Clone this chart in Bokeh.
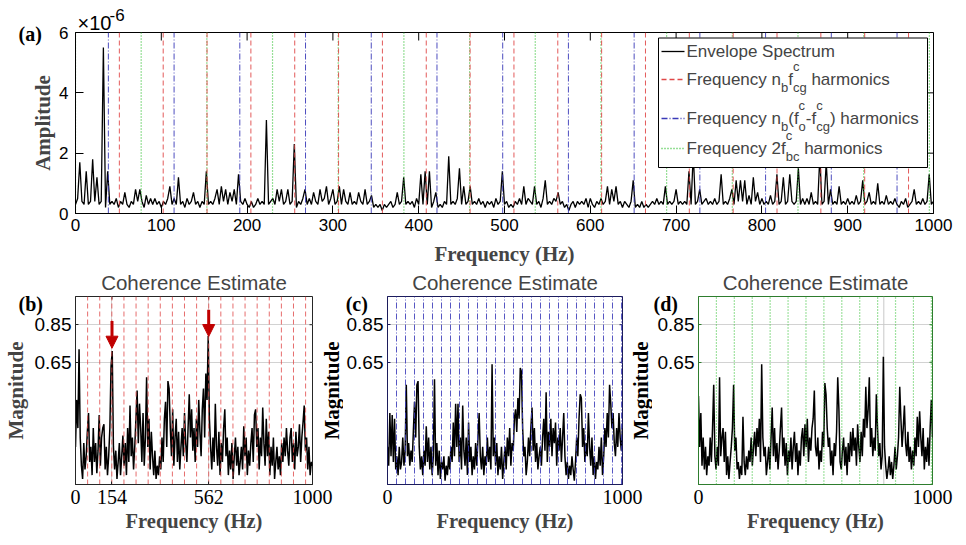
import math
from bokeh.plotting import figure
from bokeh.models import Range1d, FixedTicker, Label, BoxAnnotation, Arrow, NormalHead, Span
from bokeh.layouts import column, row
from bokeh.embed import file_html
from bokeh.resources import INLINE
from bokeh.core.properties import value

SANS = "Liberation Sans"
SERIF = "Liberation Serif"

# ---------------- data ----------------
# (a) envelope spectrum, one value every 2.5 Hz from 0 Hz, amplitude in units of 1e-7
ENV_STEP_HZ = 2.5
env_amp_e7 = [
    3, 5, 17, 4, 3, 14, 3, 4, 18, 4, 12, 3, 4, 55, 2, 14, 3, 4, 3, 5,
    2, 4, 3, 7, 3, 2, 4, 3, 8, 4, 8, 4, 2, 6, 3, 5, 3, 5, 3, 4,
    2, 4, 3, 5, 9, 3, 5, 3, 12, 3, 4, 2, 5, 3, 4, 7, 3, 4, 2, 4,
    3, 14, 3, 4, 3, 5, 8, 3, 9, 4, 8, 3, 7, 4, 8, 3, 13, 4, 3, 5,
    3, 2, 4, 2, 3, 5, 3, 4, 3, 31, 3, 4, 5, 3, 8, 4, 8, 3, 4, 8,
    3, 4, 23, 2, 4, 3, 5, 8, 3, 5, 3, 7, 4, 3, 8, 4, 5, 9, 3, 5,
    8, 3, 4, 9, 3, 8, 4, 3, 7, 3, 4, 3, 7, 4, 3, 8, 3, 4, 6, 2,
    3, 2, 3, 1, 3, 2, 3, 4, 2, 3, 7, 3, 4, 12, 3, 4, 3, 4, 2, 5,
    3, 13, 3, 14, 3, 14, 2, 4, 7, 2, 3, 2, 4, 3, 19, 3, 4, 3, 5, 15,
    3, 9, 3, 4, 9, 3, 4, 3, 5, 3, 4, 2, 4, 3, 4, 2, 5, 3, 4, 14,
    3, 4, 2, 3, 2, 4, 3, 5, 3, 9, 3, 5, 4, 3, 9, 3, 4, 2, 5, 11,
    3, 4, 3, 5, 4, 7, 3, 4, 2, 3, 1, 3, 4, 2, 4, 3, 4, 3, 5, 2,
    5, 3, 2, 4, 3, 5, 3, 4, 9, 3, 8, 4, 9, 3, 4, 2, 4, 3, 2, 4,
    11, 2, 3, 2, 4, 2, 3, 2, 3, 4, 3, 5, 3, 4, 3, 9, 3, 4, 3, 4,
    8, 3, 4, 3, 4, 3, 14, 3, 20, 3, 4, 8, 3, 4, 5, 3, 4, 3, 5, 3,
    4, 13, 3, 4, 3, 5, 8, 3, 11, 4, 11, 4, 11, 3, 6, 3, 12, 4, 7, 3,
    5, 3, 4, 3, 6, 3, 4, 13, 3, 4, 12, 3, 4, 13, 4, 3, 4, 15, 3, 5,
    3, 5, 3, 7, 3, 4, 3, 19, 3, 4, 17, 3, 8, 3, 4, 3, 9, 3, 4, 3,
    5, 3, 4, 3, 6, 3, 4, 11, 3, 4, 7, 3, 4, 3, 10, 3, 4, 3, 6, 3,
    4, 3, 5, 3, 2, 4, 3, 5, 2, 3, 4, 8, 3, 4, 3, 5, 3, 4, 13, 3, 4,
]

# (b)(c)(d) coherence estimates, one value every 5 Hz from 0 Hz, magnitude in units of 0.01
COH_STEP_HZ = 5
coh_b = [
    20, 45, 30, 72, 25, 10, 3, 22, 8, 15,
    28, 38, 12, 20, 5, 30, 12, 22, 6, 18,
    37, 10, 25, 30, 32, 8, 20, 5, 15, 30,
    63, 71, 20, 8, 18, 3, 12, 22, 5, 15,
    26, 10, 22, 5, 30, 12, 42, 15, 25, 8,
    20, 35, 50, 22, 43, 30, 12, 38, 10, 25,
    57, 20, 35, 8, 28, 15, 5, 18, 3, 10,
    5, 15, 8, 25, 12, 35, 44, 20, 55, 51,
    30, 15, 40, 10, 25, 35, 12, 28, 8, 20,
    30, 15, 38, 22, 12, 30, 48, 25, 40, 18,
    30, 12, 35, 20, 45, 28, 15, 40, 51, 25,
    59, 45, 79, 35, 20, 8, 25, 12, 43, 20,
    10, 28, 5, 22, 12, 30, 40, 15, 25, 5,
    18, 8, 22, 3, 15, 25, 10, 20, 5, 12,
    20, 8, 31, 15, 25, 5, 18, 10, 22, 30,
    12, 37, 40, 20, 30, 8, 25, 15, 41, 22,
    10, 35, 15, 28, 5, 20, 10, 25, 3, 12,
    20, 8, 15, 5, 22, 12, 25, 15, 30, 18,
    10, 25, 30, 12, 22, 8, 28, 15, 20, 32,
    12, 25, 33, 42, 18, 25, 8, 20, 5, 12,
    10,
]
coh_c = [
    20, 10, 38, 15, 37, 12, 35, 8, 15, 5,
    20, 8, 12, 25, 10, 18, 53, 15, 22, 10,
    18, 12, 28, 44, 25, 53, 55, 20, 8, 15,
    5, 18, 10, 31, 12, 25, 8, 20, 5, 15,
    56, 10, 22, 5, 18, 3, 12, 8, 15, 2,
    10, 5, 15, 8, 20, 12, 33, 15, 43, 20,
    43, 12, 25, 8, 42, 18, 10, 25, 5, 33,
    12, 20, 5, 15, 8, 22, 10, 25, 38, 15,
    8, 20, 5, 15, 10, 25, 12, 20, 8, 64,
    15, 25, 10, 22, 5, 15, 8, 20, 3, 12,
    20, 8, 25, 15, 30, 10, 22, 18, 35, 40,
    28, 46, 35, 62, 60, 30, 15, 20, 5, 12,
    25, 15, 30, 41, 18, 30, 12, 22, 8, 15,
    20, 10, 25, 35, 18, 49, 12, 28, 20, 35,
    15, 30, 22, 33, 10, 25, 18, 30, 12, 25,
    38, 15, 5, 12, 3, 10, 5, 15, 8, 2,
    12, 25, 15, 35, 48, 46, 20, 30, 12, 22,
    15, 38, 20, 10, 25, 5, 15, 3, 12, 8,
    20, 10, 25, 5, 15, 30, 20, 38, 25, 53,
    43, 30, 38, 22, 15, 30, 20, 38, 25, 18,
    30,
]
coh_d = [
    47, 20, 38, 10, 25, 8, 20, 5, 15, 10,
    25, 12, 30, 53, 15, 8, 20, 10, 57, 15,
    25, 30, 12, 28, 5, 15, 3, 12, 20, 30,
    53, 18, 25, 8, 12, 3, 10, 5, 36, 12,
    5, 15, 8, 18, 12, 25, 10, 20, 28, 15,
    30, 20, 35, 12, 64, 25, 15, 20, 5, 12,
    20, 8, 25, 41, 15, 30, 12, 22, 8, 18,
    30, 41, 15, 25, 10, 22, 5, 18, 12, 25,
    8, 20, 28, 12, 22, 5, 18, 10, 25, 30,
    15, 32, 20, 35, 12, 25, 18, 30, 35, 50,
    20, 15, 25, 8, 18, 12, 28, 20, 54, 48,
    30, 20, 25, 10, 18, 5, 22, 15, 28, 57,
    40, 12, 8, 18, 25, 10, 20, 5, 22, 12,
    28, 15, 30, 18, 25, 10, 32, 20, 12, 28,
    15, 35, 25, 52, 30, 40, 57, 20, 30, 15,
    25, 18, 48, 30, 15, 22, 8, 15, 68, 20,
    10, 3, 8, 15, 5, 12, 3, 10, 20, 8,
    15, 25, 52, 35, 20, 30, 42, 22, 15, 28,
    12, 20, 8, 18, 10, 25, 15, 36, 20, 39,
    25, 15, 30, 8, 20, 12, 25, 10, 30, 45,
    25,
]

# characteristic frequencies (Hz) and the harmonic orders drawn
f_nb_fcg = 51.1        # n_b f^c_cg
f_nb_fo_fcg = 38.3     # n_b (f^c_o - f^c_cg)
f_2fbc = 76.55         # 2 f^c_bc
red_orders_a = list(range(1, 20))
blue_orders_a = [1, 3, 5, 7, 9, 11, 13, 15, 17, 19, 21, 23, 25]
green_orders_a = list(range(0, 14))
red_orders_b = list(range(1, 20))
blue_orders_c = list(range(1, 27))
green_orders_d = list(range(1, 14))

x_ticks_a = [0, 100, 200, 300, 400, 500, 600, 700, 800, 900, 1000]
y_ticks_a = [0, 2, 4, 6]
x_ticks_b = [0, 154, 562, 1000]
x_ticks_cd = [0, 1000]
y_ticks_bcd = [0.65, 0.85]
arrow_freqs_b = [154, 562]
arrow_tops_b = [0.87, 0.93]
arrow_tips_b = [0.725, 0.787]
cursor_freq_d = 792

# ---------------- styles ----------------
RED, RED_DASH = "#e04848", "5 3"
BLUE, BLUE_DASH = "#3a3ab8", "6 2 1 2"
GREEN, GREEN_DASH = "#2fbf2f", "1 2"
ARROW_RED = "#c00000"

ARIAL_W = {' ': 278, '(': 333, ')': 333, '-': 333, '2': 556, 'E': 667, 'F': 611, 'S': 667,
           'a': 556, 'b': 556, 'c': 500, 'e': 556, 'f': 278, 'g': 556, 'h': 556, 'i': 222,
           'l': 222, 'm': 833, 'n': 556, 'o': 556, 'p': 556, 'q': 556, 'r': 333, 's': 500,
           't': 278, 'u': 556, 'v': 500, 'y': 500, '×': 584, '1': 556, '0': 556}


def tw(s, size):
    return sum(ARIAL_W.get(ch, 556) for ch in s) * size / 1000.0


def base_fig(width, height, yr, bl, br, bt, bb, frame_color):
    p = figure(width=width, height=height, x_range=Range1d(0, 1000), y_range=Range1d(*yr),
               output_backend="svg", toolbar_location=None,
               min_border_left=bl, min_border_right=br, min_border_top=bt, min_border_bottom=bb)
    p.outline_line_color = frame_color
    p.outline_line_width = 1
    p.background_fill_color = "white"
    p.border_fill_color = "white"
    return p


def setup_axes(p, xt, yt, color, tick_len_px, fw, fh, yr):
    xa_, ya_ = p.xaxis[0], p.yaxis[0]
    for ax, ticks in ((xa_, xt), (ya_, yt)):
        ax.ticker = FixedTicker(ticks=ticks)
        ax.major_tick_in = tick_len_px
        ax.major_tick_out = 0
        ax.minor_tick_line_color = None
        ax.axis_line_color = color
        ax.major_tick_line_color = color
        ax.major_label_text_color = "black"
    # mirrored inward ticks on the top and right frame edges (MATLAB box style)
    y0, y1 = yr
    dy = tick_len_px / fh * (y1 - y0)
    dx = tick_len_px / fw * 1000.0
    p.segment(x0=xt, y0=[y1] * len(xt), x1=xt, y1=[y1 - dy] * len(xt), line_color=color, line_width=1)
    p.segment(x0=[1000] * len(yt), y0=yt, x1=[1000 - dx] * len(yt), y1=yt, line_color=color, line_width=1)
    return xa_, ya_


def vlines(p, freqs, y0, y1, color, dash, width=1.0, alpha=1.0):
    n = len(freqs)
    p.segment(x0=freqs, y0=[y0] * n, x1=freqs, y1=[y1] * n, line_color=color,
              line_dash=dash, line_width=width, line_alpha=alpha)


def free_text(p, x, y, txt, font, size, bold=False, align="left", baseline="middle", angle=0.0):
    p.text(x=[x], y=[y], text=[txt], text_font=value(font), text_font_size=value(size),
           text_font_style="bold" if bold else "normal", text_align=align,
           text_baseline=baseline, angle=angle, text_color="black", level="overlay")


# ---------------- (a) envelope spectrum ----------------
pa = base_fig(966, 270, (0, 6), 75, 33, 32, 57, "black")
xa, ya = setup_axes(pa, x_ticks_a, y_ticks_a, "black", 8, 858, 181, (0, 6))
pa.grid.visible = False
xa.major_label_text_font = SANS
xa.major_label_text_font_size = "17px"
xa.major_label_standoff = 5
xa.axis_label = "Frequency (Hz)"
xa.axis_label_text_font = SERIF
xa.axis_label_text_font_style = "bold"
xa.axis_label_text_font_size = "21px"
xa.axis_label_standoff = 8
ya.major_label_text_font = SANS
ya.major_label_text_font_size = "17px"
ya.major_label_standoff = 7
ya.axis_label = "Amplitude"
ya.axis_label_text_font = SERIF
ya.axis_label_text_font_style = "bold"
ya.axis_label_text_font_size = "21px"
ya.axis_label_standoff = 1

env_f = [i * ENV_STEP_HZ for i in range(len(env_amp_e7))]
env_y = [v / 10.0 for v in env_amp_e7]   # in units of 1e-6
pa.line(env_f, env_y, line_color="black", line_width=1.3)

vlines(pa, [f_2fbc * n for n in green_orders_a], 0, 6, GREEN, GREEN_DASH, 1.2)
vlines(pa, [f_nb_fcg * n for n in red_orders_a], 0, 6, RED, RED_DASH, 1.0, 0.9)
vlines(pa, [f_nb_fo_fcg * n for n in blue_orders_a], 0, 6, BLUE, BLUE_DASH, 1.0, 0.9)


def ax_x(px):
    return (px - 75) / 858.0 * 1000


def ax_y(py):
    return (213 - py) / 181.0 * 6


# exponent and panel letter (outside the frame)
free_text(pa, ax_x(77), ax_y(22), "×10", SANS, "20px")
free_text(pa, ax_x(109), ax_y(14), "-6", SANS, "17px")
free_text(pa, ax_x(18), ax_y(33), "(a)", SERIF, "20px", bold=True)

# legend
pa.add_layout(BoxAnnotation(left=ax_x(658), right=ax_x(927), top=ax_y(37.5), bottom=ax_y(167),
                            fill_color="white", fill_alpha=1, line_color="black", line_width=1,
                            line_alpha=1))
LX0, LX1, TX = 661, 684, 686
rows_y = [51, 79, 118, 148]
for yy, col, dash in zip(rows_y, ["black", RED, BLUE, GREEN], [None, RED_DASH, BLUE_DASH, GREEN_DASH]):
    kw = dict(line_color=col, line_width=1.3, level="overlay")
    if dash:
        kw["line_dash"] = dash
    pa.segment(x0=[ax_x(LX0)], y0=[ax_y(yy)], x1=[ax_x(LX1)], y1=[ax_y(yy)], **kw)

MAIN, SCR = 17, 13
SUB_DY, SUP_DY = 8, -13
BASE_DY = 0   # alphabetic baseline offset from the row centre line


def ltext(s, px, pyb, size):
    pa.add_layout(Label(x=ax_x(px), y=ax_y(pyb), text=s, text_font=SANS, text_font_size=f"{size}px",
                        text_baseline="alphabetic", text_align="left", level="overlay"))


ltext("Envelope Spectrum", TX, rows_y[0] + BASE_DY, MAIN)
b = rows_y[1] + BASE_DY
x = TX
ltext("Frequency n", x, b, MAIN); x += tw("Frequency n", MAIN)
ltext("b", x, b + SUB_DY, SCR); x += tw("b", SCR)
ltext("f", x, b, MAIN); x += tw("f", MAIN)
ltext("c", x, b + SUP_DY, SCR); ltext("cg", x, b + SUB_DY, SCR); x += tw("cg", SCR)
x += tw(" ", MAIN)
ltext("harmonics", x, b, MAIN)
b = rows_y[2] + BASE_DY
x = TX
ltext("Frequency n", x, b, MAIN); x += tw("Frequency n", MAIN)
ltext("b", x, b + SUB_DY, SCR); x += tw("b", SCR)
ltext("(f", x, b, MAIN); x += tw("(f", MAIN)
ltext("c", x, b + SUP_DY, SCR); ltext("o", x, b + SUB_DY, SCR); x += tw("o", SCR)
ltext("-f", x, b, MAIN); x += tw("-f", MAIN)
ltext("c", x, b + SUP_DY, SCR); ltext("cg", x, b + SUB_DY, SCR); x += tw("cg", SCR)
ltext(") harmonics", x, b, MAIN)
b = rows_y[3] + BASE_DY
x = TX
ltext("Frequency 2f", x, b, MAIN); x += tw("Frequency 2f", MAIN)
ltext("c", x, b + SUP_DY, SCR); ltext("bc", x, b + SUB_DY, SCR); x += tw("bc", SCR)
x += tw(" ", MAIN)
ltext("harmonics", x, b, MAIN)


# ---------------- (b)(c)(d) coherence estimates ----------------
def coh_panel(width, bl, br, vals, frame_color, xt, letter, letter_px):
    p = base_fig(width, 275, (0, 1), bl, br, 25, 61, frame_color)
    fw = width - bl - br
    xa_, ya_ = setup_axes(p, xt, y_ticks_bcd, frame_color, 3, fw, 189, (0, 1))
    p.xgrid.ticker = FixedTicker(ticks=xt)
    p.ygrid.ticker = FixedTicker(ticks=y_ticks_bcd)
    p.grid.grid_line_color = "#d2d2d2"
    p.grid.grid_line_width = 1
    xa_.major_label_text_font = SERIF
    xa_.major_label_text_font_size = "20px"
    xa_.major_label_standoff = 5
    xa_.axis_label = "Frequency (Hz)"
    xa_.axis_label_text_font = SERIF
    xa_.axis_label_text_font_style = "bold"
    xa_.axis_label_text_font_size = "20.5px"
    xa_.axis_label_standoff = 3
    ya_.major_label_text_font = SANS
    ya_.major_label_text_font_size = "19px"
    ya_.major_label_standoff = 4
    p.title.text = "Coherence Estimate"
    p.title.align = "center"
    p.title.text_font = SANS
    p.title.text_font_style = "normal"
    p.title.text_font_size = "20.5px"
    p.title.standoff = 1
    p.title.vertical_align = "top"
    fx = lambda px_rel: px_rel / fw * 1000.0
    free_text(p, fx(letter_px - bl), (484 - 303) / 189.0, letter, SERIF, "20px", bold=True)
    f = [i * COH_STEP_HZ for i in range(len(vals))]
    v = [c / 100.0 for c in vals]
    p.line(f, v, line_color="black", line_width=1.5)
    return p, ya_


# (b): page x 0..343, frame 75..312
pb, yb = coh_panel(343, 75, 31, coh_b, "#262626", x_ticks_b, "(b)", 18)
vlines(pb, [f_nb_fcg * n for n in red_orders_b], 0, 1, RED, RED_DASH, 1.0, 0.8)
yb.axis_label = "Magnitude"
yb.axis_label_text_font = SERIF
yb.axis_label_text_font_style = "bold"
yb.axis_label_text_font_size = "21px"
yb.axis_label_standoff = 4
for fq, y0, y1 in zip(arrow_freqs_b, arrow_tops_b, arrow_tips_b):
    pb.add_layout(Arrow(end=NormalHead(size=12, fill_color=ARROW_RED, line_color=ARROW_RED),
                        x_start=fq, y_start=y0, x_end=fq, y_end=y1,
                        line_color=ARROW_RED, line_width=3))

# (c): page x 343..652, frame 386..622
pc, _ = coh_panel(309, 43, 30, coh_c, "#1c1c5c", x_ticks_cd, "(c)", 344 - 343)
vlines(pc, [f_nb_fo_fcg * n for n in blue_orders_c], 0, 1, BLUE, BLUE_DASH, 1.0, 0.85)

# (d): page x 652..966, frame 698..932
pd, _ = coh_panel(314, 46, 34, coh_d, "#2e7d2e", x_ticks_cd, "(d)", 653 - 652)
pd.add_layout(Span(location=cursor_freq_d, dimension="height", line_color="#c8c8c8",
                   line_width=1, level="underlay"))
vlines(pd, [f_2fbc * n for n in green_orders_d], 0, 1, GREEN, GREEN_DASH, 1.2, 0.9)

# y labels of (c) and (d) sit just left of their frames (drawn on the neighbouring canvas)
free_text(pb, (331 - 75) / 237.0 * 1000, 0.5, "Magnitude", SERIF, "21px", bold=True,
          align="center", angle=math.pi / 2)
free_text(pc, (641 - 386) / 236.0 * 1000, 0.5, "Magnitude", SERIF, "21px", bold=True,
          align="center", angle=math.pi / 2)

layout = column(pa, row(pb, pc, pd))
open("out.html", "w").write(file_html(layout, INLINE))
